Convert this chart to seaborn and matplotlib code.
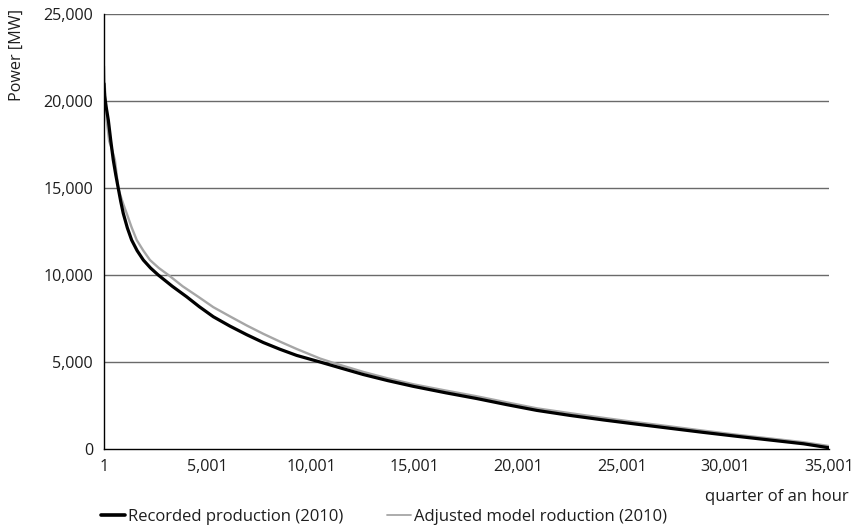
import matplotlib
matplotlib.use("Agg")
import matplotlib.pyplot as plt
import seaborn as sns
import pandas as pd
from matplotlib.lines import Line2D
from matplotlib.ticker import FuncFormatter

# Data (quarter-hour index, MW)
rec_x = [1, 30, 100, 210, 330, 450, 570, 690, 810, 930, 1130, 1335, 1600, 1900,
         2250, 2620, 3300, 3990, 4600, 5280, 6085, 6890, 7690, 8500, 9300,
         10430, 11500, 12520, 13700, 14935, 16500, 17995, 19400, 20890, 22500,
         24110, 25700, 27330, 28900, 30550, 32200, 33770, 35001]
rec_y = [21000, 20300, 19700, 18900, 17700, 16600, 15750, 14980, 14220, 13545,
         12700, 12010, 11400, 10860, 10400, 10000, 9350, 8750, 8180, 7600, 7060,
         6570, 6120, 5730, 5380, 5000, 4630, 4280, 3930, 3600, 3230, 2900, 2560,
         2220, 1930, 1670, 1430, 1190, 960, 730, 510, 300, 70]

adj_x = [1, 30, 100, 130, 250, 390, 530, 610, 690, 800, 940, 1095, 1330, 1580,
         1900, 2220, 2650, 3110, 3800, 4550, 5280, 6085, 6890, 7690, 8500, 9300,
         10430, 11070, 12520, 13700, 14935, 16500, 17995, 19400, 20890, 22500,
         24110, 25700, 27330, 28900, 30550, 32200, 33770, 35001]
adj_y = [22000, 21000, 19800, 18900, 17700, 17200, 16600, 15800, 15000, 14550,
         14050, 13545, 12750, 12010, 11400, 10860, 10400, 10000, 9350, 8750,
         8150, 7620, 7100, 6620, 6170, 5750, 5200, 4950, 4430, 4060, 3720, 3360,
         3030, 2690, 2340, 2060, 1790, 1540, 1300, 1060, 820, 600, 390, 170]

series_names = ["Recorded production (2010)", "Adjusted model roduction (2010)"]
series_colors = ["#000000", "#a6a6a6"]
y_ticks = [0, 5000, 10000, 15000, 20000, 25000]

df = pd.concat([
    pd.DataFrame({"x": rec_x, "y": rec_y, "series": series_names[0]}),
    pd.DataFrame({"x": adj_x, "y": adj_y, "series": series_names[1]}),
], ignore_index=True)

sns.set_style("white")
plt.rcParams["font.family"] = ["Open Sans", "DejaVu Sans"]
FS = 11.6
FS_LEG = 12.0
TXT = "#1e1e1e"

fig = plt.figure(figsize=(8.55, 5.30), dpi=100)
ax = fig.add_axes([104 / 855, 1 - 449 / 530, (829 - 104) / 855, (449 - 14) / 530])

grid_c = "#6a6a6a"
for yv in y_ticks[1:]:
    ax.axhline(yv, color=grid_c, lw=1.0, zorder=0)

sns.lineplot(data=df[df.series == series_names[1]], x="x", y="y", color=series_colors[1],
             lw=1.7, ax=ax, sort=False, legend=False, zorder=2)
sns.lineplot(data=df[df.series == series_names[0]], x="x", y="y", color=series_colors[0],
             lw=2.3, ax=ax, sort=False, legend=False, zorder=3)

ax.set_xlim(1, 35001)
ax.set_ylim(0, 25000)
ax.set_xlabel("")
ax.set_ylabel("")

xt = list(range(1, 35002, 1000))
ax.set_xticks(xt)
ax.set_xticklabels([f"{v:,}" if (v - 1) % 5000 == 0 else "" for v in xt])
ax.set_yticks(y_ticks)
ax.yaxis.set_major_formatter(FuncFormatter(lambda v, p: f"{int(v):,}"))
ax.tick_params(axis="both", direction="out", length=5, width=1, color="black",
               labelsize=FS, labelcolor=TXT)
ax.tick_params(axis="x", pad=2)
ax.tick_params(axis="y", pad=3)

for s in ["top", "right"]:
    ax.spines[s].set_visible(False)
for s in ["left", "bottom"]:
    ax.spines[s].set_color("black")
    ax.spines[s].set_linewidth(1.0)
    ax.spines[s].set_zorder(4)

fig.text(17 / 855, 1 - 55 / 530, "Power [MW]", rotation=90, ha="center", va="center",
         fontsize=FS, color=TXT)
fig.text(849 / 855, 1 - 497 / 530, "quarter of an hour", ha="right", va="center",
         fontsize=FS_LEG, color=TXT)

handles = [Line2D([0], [0], color=series_colors[0], lw=2.6),
           Line2D([0], [0], color=series_colors[1], lw=1.3)]
fig.legend(handles, series_names, loc="center left", bbox_to_anchor=(101 / 855, 1 - 517 / 530),
           ncol=2, frameon=False, fontsize=FS_LEG, handlelength=1.45, handletextpad=0.18,
           columnspacing=2.6, borderaxespad=0, borderpad=0, labelcolor=TXT)

fig.savefig("out.png", dpi=100)
